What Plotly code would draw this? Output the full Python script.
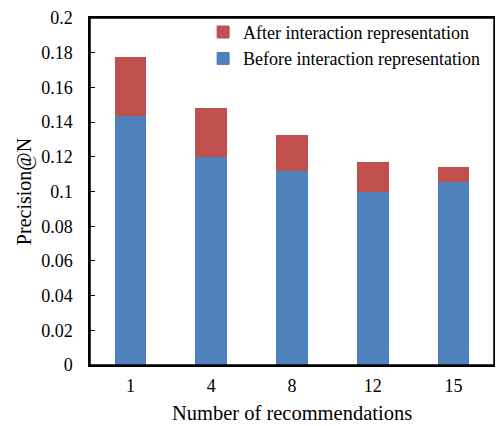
import plotly.graph_objects as go

categories = ["1", "4", "8", "12", "15"]
before = [0.144, 0.120, 0.112, 0.100, 0.106]
after_gain = [0.033, 0.028, 0.020, 0.017, 0.008]
y_ticks = [0, 0.02, 0.04, 0.06, 0.08, 0.1, 0.12, 0.14, 0.16, 0.18, 0.2]
y_tick_text = ["0", "0.02", "0.04", "0.06", "0.08", "0.1", "0.12", "0.14", "0.16", "0.18", "0.2"]

font_family = "Liberation Serif, Times New Roman, serif"

fig = go.Figure()
fig.add_trace(go.Bar(
    x=categories, y=before, name="Before interaction representation",
    marker=dict(color="#4F81BD", line=dict(color="#4A7EC0", width=1)),
))
fig.add_trace(go.Bar(
    x=categories, y=after_gain, name="After interaction representation",
    marker=dict(color="#C0504D", line=dict(color="#C0504D", width=1)),
))

fig.update_layout(
    barmode="stack",
    bargap=0.62,
    width=495, height=418,
    margin=dict(l=82, r=9, t=10, b=61, autoexpand=False),
    paper_bgcolor="white", plot_bgcolor="white",
    font=dict(family=font_family, color="black", size=18),
    legend=dict(
        x=0.978, xanchor="right", y=1.012, yanchor="top",
        traceorder="reversed",
        font=dict(size=18, family=font_family),
        bgcolor="rgba(0,0,0,0)",
        tracegroupgap=0,
    ),
    xaxis=dict(
        type="category", automargin=False,
        showline=True, linecolor="black", linewidth=1.5, mirror=True,
        ticks="", tickfont=dict(size=18), ticklabelstandoff=4,
        title=dict(text="Number of recommendations", font=dict(size=20.5), standoff=10),
    ),
    yaxis=dict(
        range=[0, 0.2], automargin=False,
        tickvals=y_ticks,
        ticktext=y_tick_text,
        showline=True, linecolor="black", linewidth=1.5, mirror=True,
        ticks="inside", ticklen=5, tickcolor="black",
        ticklabelstandoff=12,
        showgrid=False, zeroline=False,
        tickfont=dict(size=18),
        title=dict(text="Precision@N", font=dict(size=20), standoff=4),
    ),
    shapes=[dict(type="rect", xref="paper", yref="paper", x0=0, y0=0, x1=1, y1=1,
                 line=dict(color="black", width=1.5), layer="above")],
)

fig.write_html("out.html")
